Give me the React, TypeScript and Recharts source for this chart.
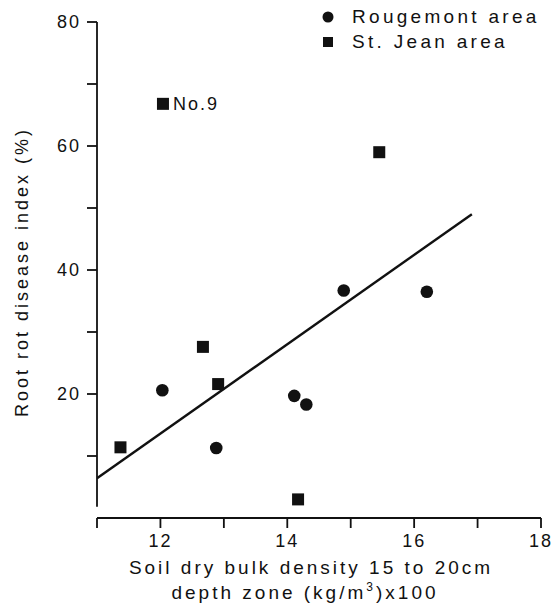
import React from "react";
import {
  ScatterChart,
  Scatter,
  XAxis,
  YAxis,
  ReferenceLine,
  Legend,
  Label,
} from "recharts";

// values
const rougemontX = [12.03, 12.88, 14.11, 14.3, 14.89, 16.2];
const rougemontY = [20.6, 11.3, 19.7, 18.3, 36.7, 36.5];
const stJeanX = [11.37, 12.04, 12.67, 12.91, 14.17, 15.45];
const stJeanY = [11.4, 66.8, 27.6, 21.6, 3.0, 59.0];
const stJeanLabels = ["", "No.9", "", "", "", ""];
const trendX = [11, 16.91];
const trendY = [6.4, 49.0];
const xTicks = [11, 12, 13, 14, 15, 16, 17, 18];
const yTicks = [10, 20, 30, 40, 50, 60, 70, 80];

const FONT = '"Liberation Sans", Arial, Helvetica, sans-serif';
const INK = "#111";

const rougemont = rougemontX.map((x, i) => ({ x, y: rougemontY[i] }));
const stJean = stJeanX.map((x, i) => ({ x, y: stJeanY[i], label: stJeanLabels[i] }));
const trend = trendX.map((x, i) => ({ x, y: trendY[i] }));

const Dot = (props: any) => <circle cx={props.cx} cy={props.cy} r={6.3} fill={INK} />;

const Square = (props: any) => {
  const { cx, cy, payload } = props;
  return (
    <g>
      <rect x={cx - 6} y={cy - 6} width={12} height={12} fill={INK} />
      {payload && payload.label ? (
        <text
          x={cx + 10}
          y={cy}
          dominantBaseline="central"
          fontFamily={FONT}
          fontSize={18}
          letterSpacing={2}
          fill={INK}
        >
          {payload.label}
        </text>
      ) : null}
    </g>
  );
};

const LegendBox = () => (
  <div style={{ fontFamily: FONT, fontSize: 19, letterSpacing: 3.3, color: INK, lineHeight: "25px" }}>
    <div style={{ display: "flex", alignItems: "center" }}>
      <svg width={20} height={14}>
        <circle cx={8} cy={7} r={5.5} fill={INK} />
      </svg>
      <span style={{ marginLeft: 12 }}>Rougemont area</span>
    </div>
    <div style={{ display: "flex", alignItems: "center" }}>
      <svg width={20} height={14}>
        <rect x={3} y={2} width={10} height={10} fill={INK} />
      </svg>
      <span style={{ marginLeft: 12 }}>St. Jean area</span>
    </div>
  </div>
);

const XTitle = () => (
  <text fontFamily={FONT} fontSize={19} letterSpacing={3} fill={INK} textAnchor="middle">
    <tspan x={311} y={574}>Soil dry bulk density 15 to 20cm</tspan>
    <tspan x={305} y={599}>
      depth zone (kg/m
      <tspan fontSize={12} dy={-8}>3</tspan>
      <tspan dy={8}>)x100</tspan>
    </tspan>
  </text>
);

const YTitle = () => (
  <text
    transform="translate(22,272) rotate(-90)"
    textAnchor="middle"
    dominantBaseline="central"
    fontFamily={FONT}
    fontSize={18}
    letterSpacing={3}
    fill={INK}
  >
    Root rot disease index (%)
  </text>
);

export default function App() {
  return (
    <div style={{ position: "absolute", left: 0, top: 0, background: "#fff" }}>
      <ScatterChart width={552} height={608} margin={{ top: 22, right: 11, bottom: 0, left: 0 }}>
        <XAxis
          type="number"
          dataKey="x"
          domain={[11, 18]}
          ticks={xTicks}
          tickFormatter={(v: number) => (v % 2 === 0 ? String(v) : "")}
          height={90}
          tickSize={10}
          tickMargin={6}
          stroke={INK}
          strokeWidth={1.8}
          tick={{ fill: INK, fontSize: 18, fontFamily: FONT, letterSpacing: 2 }}
          allowDataOverflow
        >
          <Label content={<XTitle />} />
        </XAxis>
        <YAxis
          type="number"
          dataKey="y"
          domain={[0, 80]}
          ticks={yTicks}
          tickFormatter={(v: number) => (v % 20 === 0 ? String(v) : "")}
          width={97}
          axisLine={false}
          tickSize={10}
          tickMargin={6}
          stroke={INK}
          strokeWidth={1.8}
          tick={{ fill: INK, fontSize: 18, fontFamily: FONT, letterSpacing: 2 }}
          allowDataOverflow
        >
          <Label content={<YTitle />} />
        </YAxis>
        <ReferenceLine
          segment={[
            { x: 11, y: 1.8 },
            { x: 11, y: 80 },
          ]}
          stroke={INK}
          strokeWidth={1.8}
          ifOverflow="visible"
        />
        <Legend
          layout="horizontal"
          verticalAlign="middle"
          align="center"
          content={<LegendBox />}
          wrapperStyle={{ position: "absolute", left: 320, top: 4, width: 232 }}
        />
        <Scatter
          name="trend"
          data={trend}
          line={{ stroke: INK, strokeWidth: 2.4 }}
          shape={() => null}
          legendType="none"
          isAnimationActive={false}
        />
        <Scatter name="Rougemont area" data={rougemont} shape={Dot} isAnimationActive={false} />
        <Scatter name="St. Jean area" data={stJean} shape={Square} isAnimationActive={false} />
      </ScatterChart>
    </div>
  );
}
